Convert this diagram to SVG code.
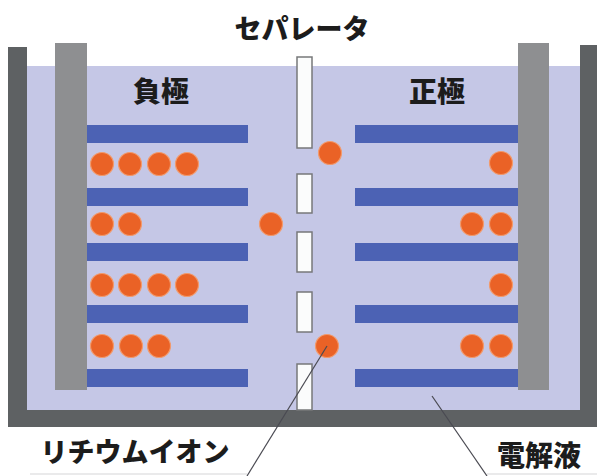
<svg xmlns="http://www.w3.org/2000/svg" width="597" height="476" viewBox="0 0 597 476">
  <style>
    .wall { fill: #5e6163; }
    .collector { fill: #8e8f91; }
    .electrolyte { fill: #c5c7e6; }
    .plate { fill: #4c62b4; }
    .sep { fill: #fbfcfc; stroke: #77787a; stroke-width: 1.5; }
    .ion { fill: #ea6226; stroke: #f29a6c; stroke-width: 1.2; }
    .label { font-family: "Noto Sans CJK JP", "Noto Sans", sans-serif; font-weight: 900; fill: #1c1c1c; text-anchor: middle; }
    .leader { stroke: #4a4a52; stroke-width: 1.2; fill: none; }
    .underline { stroke: #d6d6d8; stroke-width: 1.2; fill: none; }
  </style>
  <rect width="597" height="476" fill="#ffffff"/>

  <!-- cell casing and electrolyte -->
  <g id="cell">
    <rect class="electrolyte" x="27" y="66" width="553" height="344"/>
    <rect class="wall" x="8" y="47" width="19" height="380"/>
    <rect class="wall" x="580" y="45" width="17" height="382"/>
    <rect class="wall" x="8" y="410" width="589" height="17"/>
  </g>

  <!-- negative electrode -->
  <g id="anode">
    <rect class="collector" x="55" y="43" width="32" height="347"/>
    <rect class="plate" x="87" y="125" width="161" height="18"/>
    <rect class="plate" x="87" y="188" width="161" height="18"/>
    <rect class="plate" x="87" y="243" width="161" height="18"/>
    <rect class="plate" x="87" y="305" width="161" height="18"/>
    <rect class="plate" x="87" y="369" width="161" height="18"/>
  </g>

  <!-- positive electrode -->
  <g id="cathode">
    <rect class="collector" x="518" y="43" width="31" height="347"/>
    <rect class="plate" x="355" y="125" width="163" height="18"/>
    <rect class="plate" x="355" y="188" width="163" height="18"/>
    <rect class="plate" x="355" y="243" width="163" height="18"/>
    <rect class="plate" x="355" y="305" width="163" height="18"/>
    <rect class="plate" x="355" y="369" width="163" height="18"/>
  </g>

  <!-- porous separator -->
  <g id="separator">
    <rect class="sep" x="297" y="57" width="15" height="91"/>
    <rect class="sep" x="297" y="174" width="15" height="39"/>
    <rect class="sep" x="297" y="232" width="15" height="40"/>
    <rect class="sep" x="297" y="292" width="15" height="40"/>
    <rect class="sep" x="297" y="364" width="15" height="46"/>
  </g>

  <!-- lithium ions -->
  <g id="ions">
    <circle class="ion" cx="102" cy="164" r="11.5"/>
    <circle class="ion" cx="130" cy="164" r="11.5"/>
    <circle class="ion" cx="159" cy="164" r="11.5"/>
    <circle class="ion" cx="187" cy="164" r="11.5"/>
    <circle class="ion" cx="102" cy="224" r="11.5"/>
    <circle class="ion" cx="130" cy="224" r="11.5"/>
    <circle class="ion" cx="102" cy="285" r="11.5"/>
    <circle class="ion" cx="130" cy="285" r="11.5"/>
    <circle class="ion" cx="159" cy="285" r="11.5"/>
    <circle class="ion" cx="187" cy="285" r="11.5"/>
    <circle class="ion" cx="102" cy="346" r="11.5"/>
    <circle class="ion" cx="131" cy="346" r="11.5"/>
    <circle class="ion" cx="159" cy="346" r="11.5"/>

    <circle class="ion" cx="271" cy="224" r="11.5"/>
    <circle class="ion" cx="330" cy="153" r="11.5"/>
    <circle class="ion" cx="327" cy="346" r="11.5"/>

    <circle class="ion" cx="501" cy="163" r="11.5"/>
    <circle class="ion" cx="472" cy="224" r="11.5"/>
    <circle class="ion" cx="501" cy="224" r="11.5"/>
    <circle class="ion" cx="501" cy="285" r="11.5"/>
    <circle class="ion" cx="472" cy="346" r="11.5"/>
    <circle class="ion" cx="501" cy="346" r="11.5"/>
  </g>

  <!-- leader lines -->
  <g id="connectors">
    <polyline class="underline" points="30,474 247,474"/>
    <polyline class="underline" points="487,474 597,474"/>
    <line class="leader" x1="327" y1="346" x2="247" y2="476"/>
    <line class="leader" x1="432" y1="396" x2="487" y2="476"/>
  </g>

  <!-- labels -->
  <g id="labels">
    <text class="label" x="302" y="39" font-size="27">セパレータ</text>
    <text class="label" x="161" y="102" font-size="28">負極</text>
    <text class="label" x="437" y="102" font-size="28">正極</text>
    <text class="label" x="135" y="462" font-size="27">リチウムイオン</text>
    <text class="label" x="539" y="466" font-size="28">電解液</text>
  </g>
</svg>
